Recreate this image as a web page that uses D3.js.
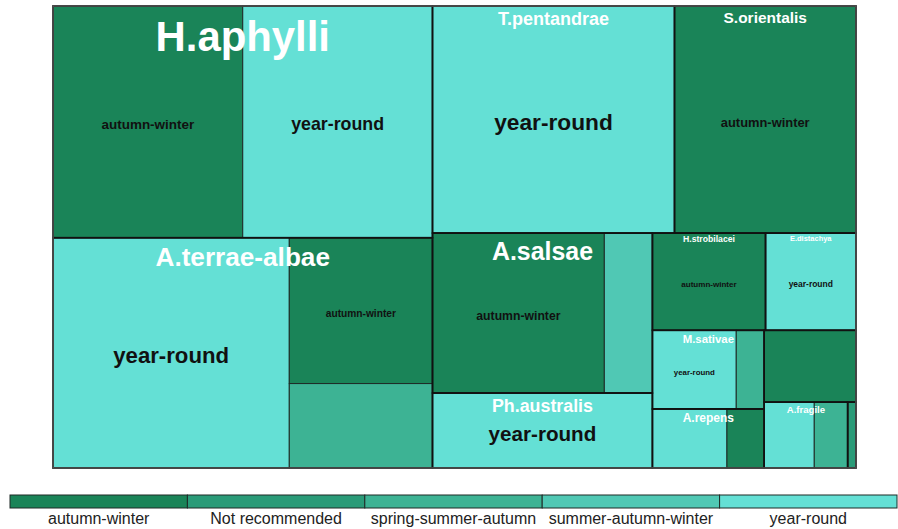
<!DOCTYPE html>
<html>
<head>
<meta charset="utf-8">
<script src="https://cdn.jsdelivr.net/npm/d3@7"></script>
<style>
  body { margin: 0; background: #fff; }
  text { font-family: "Liberation Sans", Arial, sans-serif; }
</style>
</head>
<body>
<svg id="chart"></svg>
<script>
// species (top level); two small groups carry no visible label
const species = ["H.aphylli", "A.terrae-albae", "T.pentandrae", "S.orientalis", "A.salsae",
  "Ph.australis", "H.strobilacei", "E.distachya", "M.sativae", "A.repens", "", "A.fragile", ""];
const seasons = ["autumn-winter", "Not recommended", "spring-summer-autumn", "summer-autumn-winter", "year-round"];
const seasonColors = ["#1a8458", "#2a9b78", "#3db394", "#50c8b4", "#64e0d5"];

// counts per season, one entry per species
const autumnWinter       = [80, 38, 0, 75, 50, 0, 20, 0, 0, 4, 12, 0, 0];
const notRecommended     = [0, 0, 0, 0, 0, 0, 0, 0, 0, 0, 0, 0, 1];
const springSummerAutumn = [0, 22, 0, 0, 0, 0, 0, 0, 4, 0, 0, 4, 0];
const summerAutumnWinter = [0, 0, 0, 0, 14, 0, 0, 0, 0, 0, 0, 0, 0];
const yearRound          = [80, 99, 100, 0, 0, 30, 0, 16, 12, 8, 0, 6, 0];

const seasonValues = [autumnWinter, notRecommended, springSummerAutumn, summerAutumnWinter, yearRound];

const width = 898;
const height = 529;
const plot = { x: 53, y: 6, w: 803, h: 462 };

const svg = d3.select("#chart").attr("width", width).attr("height", height);

const color = d3.scaleOrdinal().domain(seasons).range(seasonColors);

// build the hierarchy from the arrays
const treeData = {
  name: "root",
  children: species.map((name, i) => ({
    name: name,
    children: seasons
      .map((s, j) => ({ name: s, value: seasonValues[j][i] }))
      .filter((d) => d.value > 0),
  })),
};

// pivot-by-size layout: largest item is the pivot, L2 chosen to keep it square
function pivotLayout(nodes, x0, y0, x1, y1) {
  if (!nodes.length) return;
  if (nodes.length === 1) {
    Object.assign(nodes[0], { x0, y0, x1, y1 });
    return;
  }
  const total = d3.sum(nodes, (d) => d.value);
  const dx = x1 - x0;
  const dy = y1 - y0;
  const wide = dx >= dy;
  const pivot = nodes[0];
  let best = 0;
  let bestRatio = Infinity;
  for (let k = 0; k < nodes.length; k++) {
    const s = d3.sum(nodes.slice(0, k + 1), (d) => d.value);
    let pw, ph;
    if (wide) {
      pw = (dx * s) / total;
      ph = (dy * pivot.value) / s;
    } else {
      ph = (dy * s) / total;
      pw = (dx * pivot.value) / s;
    }
    const r = Math.max(pw / ph, ph / pw);
    if (r < bestRatio) {
      bestRatio = r;
      best = k;
    }
  }
  const l2 = nodes.slice(1, best + 1);
  const rest = nodes.slice(best + 1);
  const s = pivot.value + d3.sum(l2, (d) => d.value);
  if (wide) {
    const xm = x0 + (dx * s) / total;
    const ym = y0 + (dy * pivot.value) / s;
    Object.assign(pivot, { x0, y0, x1: xm, y1: ym });
    pivotLayout(l2, x0, ym, xm, y1);
    pivotLayout(rest, xm, y0, x1, y1);
  } else {
    const ym = y0 + (dy * s) / total;
    const xm = x0 + (dx * pivot.value) / s;
    Object.assign(pivot, { x0, y0, x1: xm, y1: ym });
    pivotLayout(l2, xm, y0, x1, ym);
    pivotLayout(rest, x0, ym, x1, y1);
  }
}

function tilePivotSize(parent, x0, y0, x1, y1) {
  pivotLayout(parent.children, x0, y0, x1, y1);
}

const root = d3
  .hierarchy(treeData)
  .sum((d) => d.value || 0)
  .sort((a, b) => b.value - a.value);

d3.treemap().size([plot.w, plot.h]).tile(tilePivotSize).round(false)(root);

const g = svg.append("g").attr("transform", `translate(${plot.x},${plot.y})`);

// season rectangles
g.selectAll("rect.leaf")
  .data(root.leaves())
  .enter()
  .append("rect")
  .attr("class", "leaf")
  .attr("x", (d) => d.x0)
  .attr("y", (d) => d.y0)
  .attr("width", (d) => d.x1 - d.x0)
  .attr("height", (d) => d.y1 - d.y0)
  .attr("fill", (d) => color(d.data.name))
  .attr("stroke", "#1e2a26")
  .attr("stroke-width", 1);

// species borders
g.selectAll("rect.group")
  .data(root.children)
  .enter()
  .append("rect")
  .attr("class", "group")
  .attr("x", (d) => d.x0)
  .attr("y", (d) => d.y0)
  .attr("width", (d) => d.x1 - d.x0)
  .attr("height", (d) => d.y1 - d.y0)
  .attr("fill", "none")
  .attr("stroke", "#111")
  .attr("stroke-width", 1.6);

g.append("rect")
  .attr("width", plot.w)
  .attr("height", plot.h)
  .attr("fill", "none")
  .attr("stroke", "#555")
  .attr("stroke-width", 1.4);

// scale a label so it takes a share of its box width
function fitText(text, maxWidth) {
  text.style("font-size", "10px");
  const w = text.node().getComputedTextLength();
  const size = (10 * maxWidth) / w;
  text.style("font-size", size + "px");
  return size;
}

// season labels, centred
g.selectAll("text.leaf")
  .data(root.leaves())
  .enter()
  .append("text")
  .attr("class", "leaf")
  .attr("x", (d) => (d.x0 + d.x1) / 2)
  .attr("y", (d) => (d.y0 + d.y1) / 2 + 2.5)
  .attr("text-anchor", "middle")
  .attr("dominant-baseline", "central")
  .style("font-weight", "bold")
  .style("fill", "#111")
  .text((d) => d.data.name)
  .each(function (d) {
    const size = fitText(d3.select(this), (d.x1 - d.x0) * 0.49);
    if (size < 7.3) d3.select(this).remove();
  });

// species labels, at the top
g.selectAll("text.group")
  .data(root.children.filter((d) => d.data.name !== ""))
  .enter()
  .append("text")
  .attr("class", "group")
  .attr("x", (d) => (d.x0 + d.x1) / 2)
  .attr("text-anchor", "middle")
  .style("font-weight", "bold")
  .style("fill", "#fff")
  .text((d) => d.data.name)
  .each(function (d) {
    const size = fitText(d3.select(this), (d.x1 - d.x0) * 0.46);
    d3.select(this).attr("y", d.y0 + size * 1.08);
  });

// legend
const legendX = d3.scaleBand().domain(seasons).range([10, 897]);

const legend = svg.append("g");

legend
  .selectAll("rect")
  .data(seasons)
  .enter()
  .append("rect")
  .attr("x", (d) => legendX(d))
  .attr("y", 495)
  .attr("width", legendX.bandwidth())
  .attr("height", 13)
  .attr("fill", (d) => color(d))
  .attr("stroke", "#1e2a26")
  .attr("stroke-width", 1);

legend
  .selectAll("text")
  .data(seasons)
  .enter()
  .append("text")
  .attr("x", (d) => legendX(d) + legendX.bandwidth() / 2)
  .attr("y", 524)
  .attr("text-anchor", "middle")
  .style("font-size", "16px")
  .style("fill", "#222")
  .text((d) => d);
</script>
</body>
</html>
